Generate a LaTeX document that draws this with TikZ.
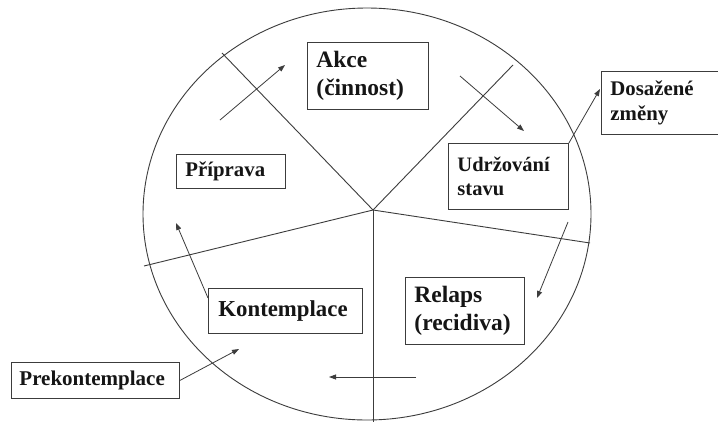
\documentclass[tikz,border=0pt]{standalone}
\usepackage{fontspec}
\setmainfont{Liberation Serif}
\usetikzlibrary{arrows.meta}
\definecolor{linegray}{HTML}{3C3C3C}
\definecolor{textblack}{HTML}{151515}
\begin{document}
\begin{tikzpicture}[x=1pt,y=-1pt,
  line/.style={draw=linegray, line width=0.9pt},
  box/.style={draw=linegray, line width=0.9pt, anchor=north west, align=left,
    inner xsep=9pt, inner ysep=0pt, text=textblack},
  arr/.style={draw=linegray, line width=0.8pt, -{Triangle[length=7pt,width=5pt]}},
  big/.style={font=\fontsize{23.5}{27.5}\selectfont\bfseries},
  mid/.style={font=\fontsize{22.8}{26}\selectfont\bfseries},
  small/.style={font=\fontsize{20.8}{24.5}\selectfont\bfseries}
]
\clip (0,0) rectangle (718,421);
\fill[white] (0,0) rectangle (718,421);

% cycle outline
\draw[line] (367,214) ellipse [x radius=224pt, y radius=206pt];

% spokes
\coordinate (hub) at (373,210);
\coordinate (sUL) at (222,53);
\coordinate (sUR) at (513,65);
\coordinate (sR) at (590,243);
\coordinate (sL) at (144,266);
\coordinate (sD) at (373,425);
\foreach \s in {sUL,sUR,sR,sL,sD} \draw[line] (hub) -- (\s);

% stage boxes
\node[box, big, minimum width=121pt, minimum height=67pt, text width=103pt] (akce) at (307,42) {Akce\\(činnost)};
\node[box, small, minimum width=109pt, minimum height=34pt, text width=91pt] (prip) at (176,154) {Příprava};
\node[box, small, minimum width=120pt, minimum height=66pt, text width=102pt, font=\fontsize{20.5}{24}\selectfont\bfseries] (udr) at (448,143) {Udržování\\stavu};
\node[box, small, minimum width=130pt, minimum height=63pt, text width=112pt] (dos) at (601,71) {Dosažené\\změny};
\node[box, mid, minimum width=154pt, minimum height=45pt, text width=134pt, inner xsep=10pt] (kon) at (208,288) {Kontemplace};
\node[box, big, minimum width=119pt, minimum height=67pt, text width=101pt, font=\fontsize{23.5}{28}\selectfont\bfseries] (rel) at (405,277) {Relaps\\(recidiva)};
\node[box, small, minimum width=168pt, minimum height=36pt, text width=152pt, inner xsep=8pt, font=\fontsize{21}{24}\selectfont\bfseries] (pre) at (11,362) {Prekontemplace};

% arrow ends
\coordinate (a1s) at (220,120);  \coordinate (a1e) at (285,65);
\coordinate (a2s) at (460,76);   \coordinate (a2e) at (524,131);
\coordinate (a3e) at (600,89);
\coordinate (a4s) at (568,222);  \coordinate (a4e) at (537,298);
\coordinate (a5s) at (416,377);  \coordinate (a5e) at (329,377);
\coordinate (a6s) at (208,298);  \coordinate (a6e) at (176,223);
\coordinate (a7e) at (239,349);

\draw[arr] (a1s) -- (a1e);
\draw[arr] (a2s) -- (a2e);
\draw[arr] (udr.north east) -- (a3e);
\draw[arr] (a4s) -- (a4e);
\draw[arr] (a5s) -- (a5e);
\draw[arr] (a6s) -- (a6e);
\draw[arr] (pre.east) -- (a7e);
\end{tikzpicture}
\end{document}
